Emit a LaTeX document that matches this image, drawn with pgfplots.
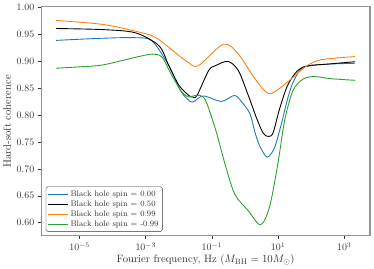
\documentclass[border=0pt]{standalone}
\usepackage{pgfplots}
\pgfplotsset{compat=1.18}
\definecolor{cblue}{HTML}{1F77B4}
\definecolor{corange}{HTML}{FF7F0E}
\definecolor{cgreen}{HTML}{2CA02C}
\definecolor{txt}{HTML}{333333}
\begin{document}
\begin{tikzpicture}
\begin{axis}[
  scale only axis, width=332bp, height=231bp,
  xmin=-6.16, xmax=3.78, ymin=0.576, ymax=1.0,
  xtick={-5,-3,-1,1,3},
  xticklabels={$10^{-5}$,$10^{-3}$,$10^{-1}$,$10^{1}$,$10^{3}$},
  ytick={0.60,0.65,0.70,0.75,0.80,0.85,0.90,0.95,1.00},
  yticklabel style={/pgf/number format/.cd,fixed,fixed zerofill,precision=2},
  tick align=outside, tick pos=lower,
  major tick length=3.5bp,
  every tick/.style={txt, line width=0.6pt},
  axis line style={draw=gray!85, line width=1.1pt},
  ticklabel style={font=\fontsize{10}{12}\selectfont, text=txt},
  xlabel={Fourier frequency, Hz ($M_{\mathrm{BH}}=10M_{\odot}$)},
  ylabel={Hard-soft coherence},
  label style={font=\fontsize{10.8}{13}\selectfont, text=txt},
  xlabel style={yshift=3bp},
  ylabel style={yshift=-1bp},
  legend cell align=left,
  legend style={at={(0.014,0.017)}, anchor=south west, draw=txt, rounded corners=2pt,
    fill=white, font=\fontsize{8.2}{10}\selectfont, text=txt, row sep=-1pt, inner sep=2pt},
  legend image code/.code={\draw[#1] (0bp,0bp) -- (20bp,0bp);},
  every axis plot/.append style={line width=0.9pt, smooth, tension=0.5},
]
\addplot[cblue] coordinates {
(-5.71,0.938) (-4.30,0.942) (-3.31,0.943) (-2.81,0.937) (-2.30,0.891) (-1.95,0.845) (-1.70,0.827) (-1.56,0.824)
(-1.26,0.835) (-0.71,0.825) (-0.32,0.836) (-0.10,0.824) (0.15,0.802) (0.30,0.768) (0.44,0.743) (0.67,0.7216)
(0.89,0.739) (1.09,0.781) (1.29,0.830) (1.45,0.860) (1.69,0.885) (1.99,0.891) (2.5,0.894) (3.33,0.8956)};
\addlegendentry{Black hole spin = 0.00}
\addplot[black] coordinates {
(-5.71,0.960) (-4.30,0.958) (-3.31,0.952) (-2.60,0.928) (-2.30,0.891) (-2.00,0.855) (-1.70,0.836) (-1.58,0.833)
(-1.45,0.836) (-1.10,0.882) (-0.90,0.891) (-0.51,0.899) (-0.20,0.882) (0.10,0.836) (0.35,0.794) (0.55,0.766)
(0.71,0.760) (0.85,0.767) (1.05,0.812) (1.29,0.855) (1.59,0.882) (1.90,0.891) (2.49,0.894) (3.33,0.8985)};
\addlegendentry{Black hole spin = 0.50}
\addplot[corange] coordinates {
(-5.71,0.975) (-4.30,0.9676) (-3.31,0.955) (-2.72,0.944) (-2.12,0.916) (-1.71,0.897) (-1.41,0.891)
(-0.65,0.931) (-0.20,0.9126) (0.30,0.867) (0.74,0.8394) (1.29,0.861) (1.80,0.888) (2.29,0.902) (3.33,0.908)};
\addlegendentry{Black hole spin = 0.99}
\addplot[cgreen] coordinates {
(-5.71,0.8864) (-5.0,0.889) (-4.30,0.8925) (-3.31,0.9066) (-2.81,0.9126) (-2.51,0.907) (-2.21,0.873) (-1.91,0.8425)
(-1.70,0.833) (-1.50,0.836) (-1.22,0.830) (-0.90,0.775) (-0.60,0.708) (-0.31,0.653) (0.09,0.623) (0.47,0.5963)
(0.74,0.629) (0.99,0.708) (1.20,0.790) (1.45,0.845) (1.75,0.866) (2.09,0.871) (2.6,0.867) (3.33,0.864)};
\addlegendentry{Black hole spin = -0.99}
\end{axis}
\path (current axis.south west) ++(-38bp,-32bp) (current axis.north east) ++(4bp,7bp);
\end{tikzpicture}
\end{document}
